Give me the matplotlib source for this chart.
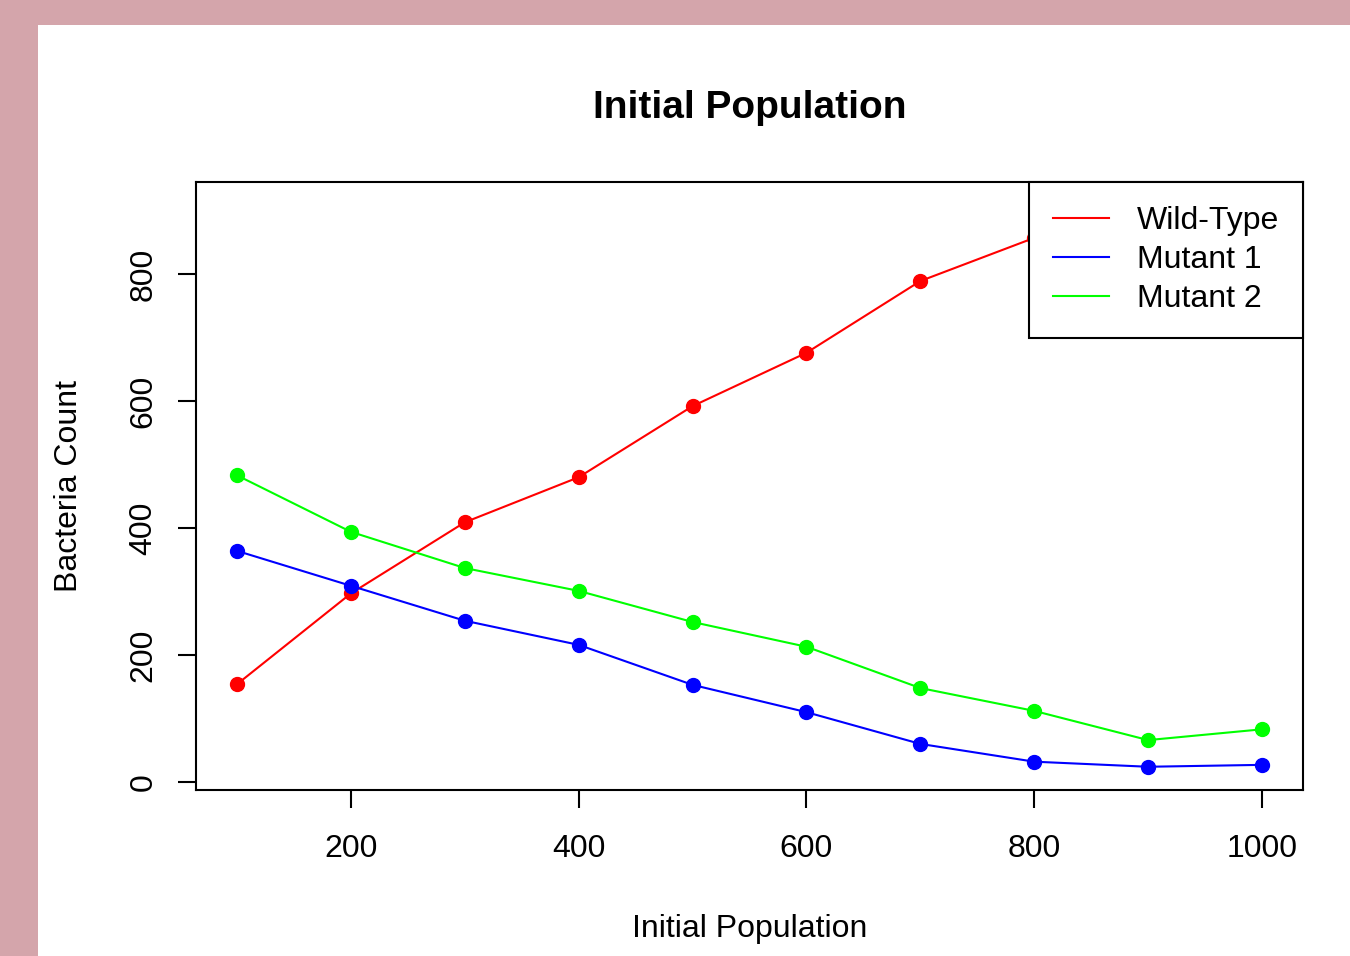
import numpy as np
import matplotlib.pyplot as plt
from matplotlib.patches import Rectangle

#   Данные
init_pop = [100, 200, 300, 400, 500, 600, 700, 800, 900, 1000]
wild_type = [154, 297, 409, 480, 592, 676, 789, 857, 895, 910]
mutant_1 = [364, 309, 254, 216, 153, 110, 60, 32, 24, 27]
mutant_2 = [483, 394, 337, 301, 252, 213, 148, 112, 66, 83]

plt.rcParams['font.family'] = ['Liberation Sans', 'DejaVu Sans']

fig = plt.figure(figsize=(13.5, 9.56), dpi=100, facecolor='#d4a5ab')
#   белая область графика поверх розовой рамки
fig.patches.append(Rectangle((38 / 1350, 0), 1 - 38 / 1350, 931 / 956,
                             transform=fig.transFigure, facecolor='white',
                             edgecolor='none', zorder=-10))

ax = fig.add_axes([196 / 1350, 1 - 790 / 956, (1303 - 196) / 1350, (790 - 182) / 956])
ax.set_facecolor('white')

ax.plot(init_pop, wild_type, color='red', linewidth=1.5, marker='o', markersize=10, label="Wild-Type")
ax.plot(init_pop, mutant_1, color='blue', linewidth=1.5, marker='o', markersize=10, label="Mutant 1")
ax.plot(init_pop, mutant_2, color='#00ff00', linewidth=1.5, marker='o', markersize=10, label="Mutant 2")

ax.set_xlim(64, 1036)
ax.set_ylim(-12.6, 945)
ax.set_xticks([200, 400, 600, 800, 1000])
ax.set_yticks([0, 200, 400, 600, 800])
ax.tick_params(axis='both', direction='out', length=13, width=1.5, labelsize=23)
ax.tick_params(axis='x', pad=19)
ax.tick_params(axis='y', pad=14)
for lbl in ax.get_yticklabels():
    lbl.set_rotation(90)
    lbl.set_va('center')
for sp in ax.spines.values():
    sp.set_linewidth(1.5)

ax.set_title("Initial Population", fontsize=28, fontweight='bold', pad=46)
ax.set_xlabel("Initial Population", fontsize=23, labelpad=36)
ax.set_ylabel("Bacteria Count", fontsize=23, labelpad=32)

leg = ax.legend(loc='upper right', borderaxespad=0, fancybox=False, framealpha=1,
                edgecolor='black', fontsize=23, handlelength=1.75, handletextpad=0.88,
                labelspacing=0.28, borderpad=0.75)
leg.get_frame().set_linewidth(1.5)
for line in leg.get_lines():
    line.set_marker('')

fig.savefig("out.png", dpi=100, facecolor=fig.get_facecolor())
